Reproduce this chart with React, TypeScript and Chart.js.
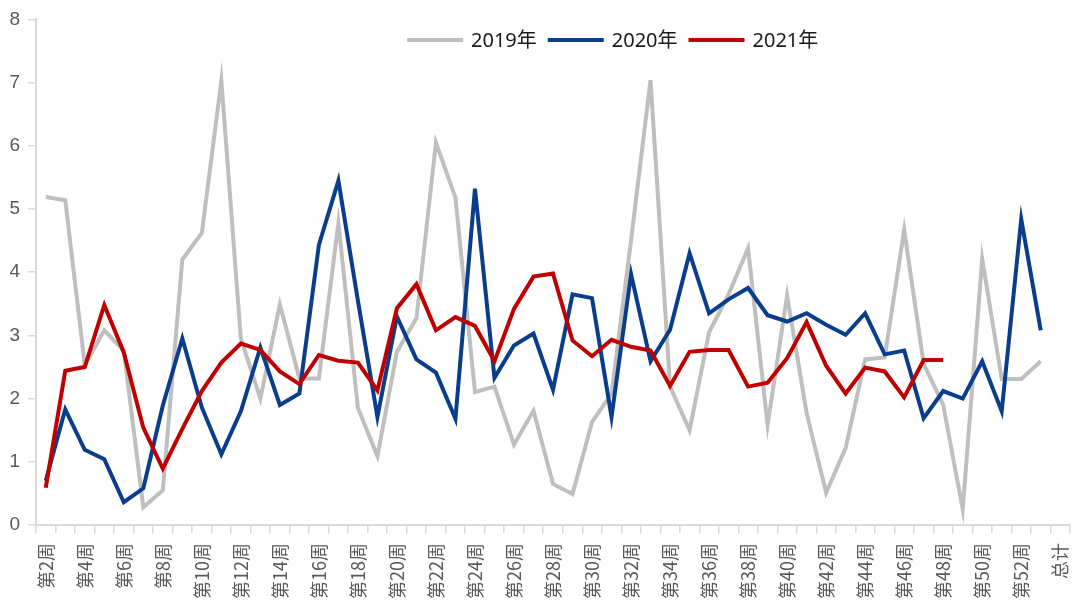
import React, { useEffect, useRef } from 'react';
import { Chart, registerables } from 'chart.js';

Chart.register(...registerables);

const categories = [
  '第2周', '第3周', '第4周', '第5周', '第6周', '第7周', '第8周', '第9周', '第10周', '第11周',
  '第12周', '第13周', '第14周', '第15周', '第16周', '第17周', '第18周', '第19周', '第20周', '第21周',
  '第22周', '第23周', '第24周', '第25周', '第26周', '第27周', '第28周', '第29周', '第30周', '第31周',
  '第32周', '第33周', '第34周', '第35周', '第36周', '第37周', '第38周', '第39周', '第40周', '第41周',
  '第42周', '第43周', '第44周', '第45周', '第46周', '第47周', '第48周', '第49周', '第50周', '第51周',
  '第52周', '第53周', '总计',
];

const seriesNames = ['2019年', '2020年', '2021年'];

const values2019 = [
  5.19, 5.14, 2.53, 3.08, 2.76, 0.28, 0.55, 4.2, 4.62, 7.03,
  2.95, 2.0, 3.49, 2.32, 2.32, 4.78, 1.85, 1.09, 2.74, 3.27,
  6.05, 5.18, 2.1, 2.19, 1.27, 1.81, 0.65, 0.49, 1.63, 2.08,
  4.5, 7.04, 2.19, 1.5, 3.05, 3.65, 4.38, 1.58, 3.63, 1.77,
  0.51, 1.22, 2.62, 2.65, 4.67, 2.55, 1.9, 0.25, 4.21, 2.31,
  2.31, 2.59, null,
];

const values2020 = [
  0.7, 1.83, 1.19, 1.04, 0.36, 0.58, 1.89, 2.95, 1.86, 1.12,
  1.8, 2.81, 1.9, 2.08, 4.43, 5.45, 3.55, 1.71, 3.3, 2.62,
  2.41, 1.68, 5.32, 2.33, 2.84, 3.03, 2.14, 3.65, 3.59, 1.71,
  3.97, 2.59, 3.09, 4.3, 3.35, 3.57, 3.75, 3.32, 3.22, 3.35,
  3.17, 3.01, 3.35, 2.7, 2.76, 1.69, 2.12, 2.0, 2.59, 1.8,
  4.84, 3.08, null,
];

const values2021 = [
  0.59, 2.44, 2.5, 3.48, 2.73, 1.54, 0.89, 1.52, 2.12, 2.57,
  2.87, 2.77, 2.43, 2.23, 2.69, 2.6, 2.57, 2.13, 3.43, 3.81,
  3.08, 3.29, 3.15, 2.59, 3.42, 3.93, 3.98, 2.92, 2.67, 2.93,
  2.82, 2.76, 2.2, 2.74, 2.77, 2.77, 2.19, 2.25, 2.64, 3.21,
  2.52, 2.08, 2.49, 2.43, 2.02, 2.61, 2.61, null, null, null,
  null, null, null,
];

const yTicks = [0, 1, 2, 3, 4, 5, 6, 7, 8];

const legendPlugin = {
  id: 'customLegend',
  afterDraw(chart: any, _args: any, opts: any) {
    const ctx = chart.ctx;
    ctx.save();
    ctx.font = opts.font;
    ctx.textBaseline = 'middle';
    ctx.textAlign = 'left';
    let x = opts.x;
    const y = opts.y;
    chart.data.datasets.forEach((ds: any) => {
      ctx.strokeStyle = ds.borderColor;
      ctx.lineWidth = ds.borderWidth;
      ctx.lineCap = 'butt';
      ctx.beginPath();
      ctx.moveTo(x, y);
      ctx.lineTo(x + opts.lineLen, y);
      ctx.stroke();
      x += opts.lineLen + opts.gap;
      ctx.fillStyle = opts.color;
      ctx.fillText(ds.label, x, y + 1);
      x += ctx.measureText(ds.label).width + opts.itemGap;
    });
    ctx.restore();
  },
};

export default function App() {
  const canvasRef = useRef<HTMLCanvasElement | null>(null);

  useEffect(() => {
    if (!canvasRef.current) return;
    const chart = new Chart(canvasRef.current, {
      type: 'line',
      data: {
        labels: categories,
        datasets: [
          {
            label: seriesNames[0],
            data: values2019,
            borderColor: '#bfbfbf',
            backgroundColor: '#bfbfbf',
            borderWidth: 4,
            pointRadius: 0,
            tension: 0,
            order: 2,
          },
          {
            label: seriesNames[1],
            data: values2020,
            borderColor: '#0a3d8c',
            backgroundColor: '#0a3d8c',
            borderWidth: 4,
            pointRadius: 0,
            tension: 0,
            order: 1,
          },
          {
            label: seriesNames[2],
            data: values2021,
            borderColor: '#c00000',
            backgroundColor: '#c00000',
            borderWidth: 4,
            pointRadius: 0,
            tension: 0,
            order: 0,
          },
        ],
      },
      options: {
        animation: false,
        responsive: true,
        maintainAspectRatio: false,
        events: [],
        layout: { padding: { top: 15, right: 6, bottom: 0, left: 0 } },
        plugins: {
          legend: { display: false },
          tooltip: { enabled: false },
          customLegend: {
            x: 407,
            y: 40,
            lineLen: 56,
            gap: 8,
            itemGap: 11,
            font: '20px "Noto Sans", "Noto Sans CJK SC", sans-serif',
            color: '#1a1a1a',
          },
        } as any,
        scales: {
          x: {
            offset: true,
            grid: {
              offset: true,
              drawOnChartArea: false,
              drawTicks: true,
              tickLength: 8,
              color: '#d9d9d9',
              lineWidth: 1.5,
            },
            border: { display: true, color: '#d9d9d9', width: 2 },
            ticks: {
              autoSkip: false,
              maxRotation: 90,
              minRotation: 90,
              padding: 10,
              color: '#595959',
              font: { family: '"Noto Sans CJK SC", sans-serif', size: 18 },
              callback: (_v: any, idx: number) => (idx % 2 === 0 ? categories[idx] : ''),
            },
            afterFit: (scale: any) => {
              scale.height = 84;
              scale.paddingLeft = 0;
              scale.paddingRight = 0;
            },
          },
          y: {
            min: yTicks[0],
            max: yTicks[yTicks.length - 1],
            afterBuildTicks: (scale: any) => {
              scale.ticks = yTicks.map((v) => ({ value: v }));
            },
            grid: {
              drawOnChartArea: false,
              drawTicks: true,
              tickLength: 8,
              color: '#d9d9d9',
              lineWidth: 1.5,
            },
            border: { display: true, color: '#d9d9d9', width: 2 },
            ticks: {
              padding: 8,
              color: '#595959',
              font: { family: '"Liberation Sans", Arial, sans-serif', size: 19 },
            },
            afterFit: (scale: any) => {
              scale.width = 36;
            },
          },
        },
      },
      plugins: [legendPlugin],
    });
    return () => chart.destroy();
  }, []);

  return (
    <div style={{ position: 'absolute', left: 0, top: 0, width: 1076, height: 609, background: '#fff' }}>
      <canvas ref={canvasRef} />
    </div>
  );
}
